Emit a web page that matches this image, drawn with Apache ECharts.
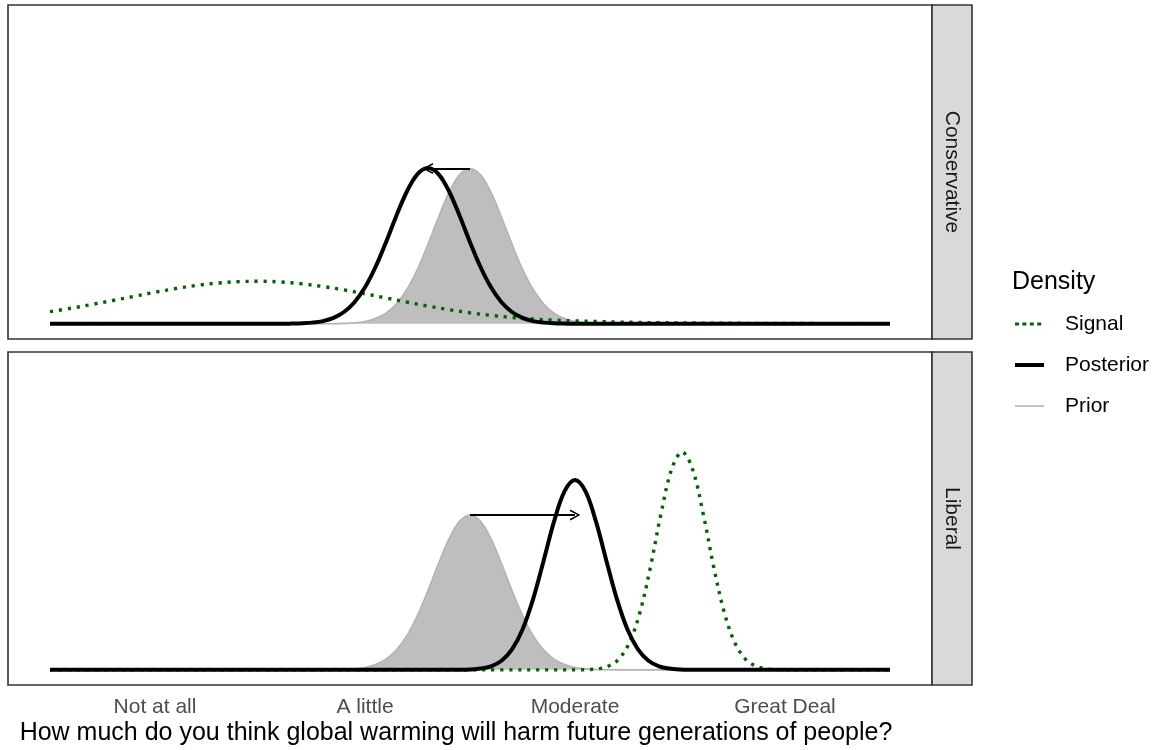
<!DOCTYPE html>
<html>
<head>
<meta charset="utf-8">
<script src="https://cdn.jsdelivr.net/npm/echarts@6/dist/echarts.min.js"></script>
<style>
  html, body { margin: 0; padding: 0; background: #fff; }
  #chart { width: 1153px; height: 750px; }
</style>
</head>
<body>
<div id="chart"></div>
<script>
// ---------- data ----------
const categories = ['Not at all', 'A little', 'Moderate', 'Great Deal'];
const tickValues = [1, 2, 3, 4];
const panels = ['Conservative', 'Liberal'];
const legendNames = ['Signal', 'Posterior', 'Prior'];
const xTitle = 'How much do you think global warming will harm future generations of people?';

// density curves as [x, density] pairs
const conPrior = [[0.5,0],[1.8,0],[1.85,0.001],[1.9,0.004],[1.95,0.01],[2.0,0.024],[2.05,0.053],[2.1,0.107],[2.15,0.2],[2.2,0.345],[2.25,0.546],[2.3,0.795],[2.35,1.064],[2.4,1.311],[2.45,1.487],[2.5,1.55],[2.55,1.487],[2.6,1.311],[2.65,1.064],[2.7,0.795],[2.75,0.546],[2.8,0.345],[2.85,0.2],[2.9,0.107],[2.95,0.053],[3.0,0.024],[3.05,0.01],[3.1,0.004],[3.15,0.001],[3.2,0],[4.5,0]];
const conPosterior = [[0.5,0],[1.6,0],[1.65,0.002],[1.7,0.005],[1.75,0.012],[1.8,0.027],[1.85,0.059],[1.9,0.118],[1.95,0.215],[2.0,0.364],[2.05,0.567],[2.1,0.815],[2.15,1.081],[2.2,1.323],[2.25,1.494],[2.3,1.555],[2.35,1.494],[2.4,1.323],[2.45,1.081],[2.5,0.815],[2.55,0.567],[2.6,0.364],[2.65,0.215],[2.7,0.118],[2.75,0.059],[2.8,0.027],[2.85,0.012],[2.9,0.005],[2.95,0.002],[3.0,0],[4.5,0]];
const conSignal = [[0.5,0.122],[0.6,0.155],[0.7,0.193],[0.8,0.233],[0.9,0.274],[1.0,0.315],[1.1,0.352],[1.2,0.384],[1.3,0.407],[1.4,0.421],[1.5,0.425],[1.6,0.417],[1.7,0.399],[1.8,0.372],[1.9,0.338],[2.0,0.299],[2.1,0.258],[2.2,0.217],[2.3,0.177],[2.4,0.141],[2.5,0.11],[2.6,0.084],[2.7,0.064],[2.8,0.048],[2.9,0.037],[3.0,0.029],[3.1,0.023],[3.2,0.018],[3.3,0.014],[3.4,0.011],[3.5,0.009],[3.6,0.007],[3.7,0.006],[3.8,0.005],[3.9,0.004],[4.0,0.003],[4.1,0.003],[4.2,0.002],[4.3,0.002],[4.4,0.002],[4.5,0.002]];

const libPrior = [[0.5,0],[1.8,0],[1.85,0.001],[1.9,0.004],[1.95,0.01],[2.0,0.024],[2.05,0.053],[2.1,0.107],[2.15,0.2],[2.2,0.345],[2.25,0.546],[2.3,0.795],[2.35,1.064],[2.4,1.311],[2.45,1.487],[2.5,1.55],[2.55,1.487],[2.6,1.311],[2.65,1.064],[2.7,0.795],[2.75,0.546],[2.8,0.345],[2.85,0.2],[2.9,0.107],[2.95,0.053],[3.0,0.024],[3.05,0.01],[3.1,0.004],[3.15,0.001],[3.2,0],[4.5,0]];
const libPosterior = [[0.5,0],[2.4,0],[2.45,0.001],[2.5,0.004],[2.55,0.013],[2.6,0.036],[2.65,0.091],[2.7,0.204],[2.75,0.403],[2.8,0.705],[2.85,1.088],[2.9,1.483],[2.95,1.786],[3.0,1.9],[3.05,1.786],[3.1,1.483],[3.15,1.088],[3.2,0.705],[3.25,0.403],[3.3,0.204],[3.35,0.091],[3.4,0.036],[3.45,0.013],[3.5,0.004],[3.55,0.001],[3.6,0],[4.5,0]];
const libSignal = [[0.5,0],[2.96,0],[3.01,0.001],[3.06,0.003],[3.11,0.011],[3.16,0.038],[3.21,0.111],[3.26,0.276],[3.31,0.581],[3.36,1.036],[3.41,1.567],[3.46,2.007],[3.51,2.18],[3.56,2.007],[3.61,1.567],[3.66,1.036],[3.71,0.581],[3.76,0.276],[3.81,0.111],[3.86,0.038],[3.91,0.011],[3.96,0.003],[4.01,0.001],[4.06,0],[4.5,0]];

// arrows: from prior peak to posterior peak (x, density)
const conArrow = [[2.5, 1.55], [2.3, 1.55]];
const libArrow = [[2.5, 1.55], [3.0, 1.55]];

// ---------- layout / style ----------
const FONT = '"Liberation Sans", Arial, Helvetica, sans-serif';
const plotL = 8, plotR = 932, stripW = 40;
const panelBoxes = [{ top: 5, height: 334 }, { top: 352, height: 333 }];
const X_MIN = 0.3, X_MAX = 4.7, Y_MIN = -0.1515, Y_MAX = 3.1815;
const BORDER = '#333333';

const arrowPath = 'path://M0,9 L5,0 L10,9 L8.6,9.7 L5,2.6 L1.4,9.7 Z';

function arrowMark(a) {
  return {
    silent: true,
    symbol: ['none', arrowPath],
    symbolSize: 11,
    symbolKeepAspect: true,
    label: { show: false },
    lineStyle: { color: '#000', width: 2, type: 'solid' },
    emphasis: { disabled: true },
    data: [[{ coord: a[0] }, { coord: a[1] }]]
  };
}

function priorSeries(data, idx) {
  return {
    type: 'line', name: 'Prior', xAxisIndex: idx, yAxisIndex: idx,
    data: data, smooth: 0.35, showSymbol: false, symbol: 'none',
    lineStyle: { color: '#B3B3B3', width: 1.6 },
    areaStyle: { color: '#BEBEBE', opacity: 1 },
    z: 2
  };
}
function signalSeries(data, idx) {
  return {
    type: 'line', name: 'Signal', xAxisIndex: idx, yAxisIndex: idx,
    data: data, smooth: 0.35, showSymbol: false, symbol: 'none',
    lineStyle: { color: '#006400', width: 3.4, type: [3.2, 5.8], cap: 'butt' },
    z: 3
  };
}
function posteriorSeries(data, idx, arrow) {
  return {
    type: 'line', name: 'Posterior', xAxisIndex: idx, yAxisIndex: idx,
    data: data, smooth: 0.35, showSymbol: false, symbol: 'none',
    lineStyle: { color: '#000000', width: 4 },
    markLine: arrowMark(arrow),
    z: 4
  };
}

const grids = panelBoxes.map(p => ({
  left: plotL, right: 1153 - plotR, top: p.top, height: p.height,
  show: true, borderColor: BORDER, borderWidth: 1.6, backgroundColor: '#fff',
  containLabel: false, outerBoundsMode: 'none'
}));

const xAxes = panelBoxes.map((p, i) => ({
  type: 'value', gridIndex: i, min: X_MIN, max: X_MAX,
  axisLine: { show: false }, axisTick: { show: false }, splitLine: { show: false },
  axisLabel: {
    show: i === panelBoxes.length - 1,
    customValues: tickValues,
    formatter: v => categories[tickValues.indexOf(Math.round(v))] || '',
    color: '#4D4D4D', fontSize: 21, fontFamily: FONT, margin: 12
  }
}));
const yAxes = panelBoxes.map((p, i) => ({
  type: 'value', gridIndex: i, min: Y_MIN, max: Y_MAX, show: false,
  splitLine: { show: false }
}));

const graphics = [];
panelBoxes.forEach((p, i) => {
  graphics.push({
    type: 'rect', z: 10,
    shape: { x: plotR, y: p.top, width: stripW, height: p.height },
    style: { fill: '#D9D9D9', stroke: BORDER, lineWidth: 1.6 }
  });
  graphics.push({
    type: 'text', z: 11,
    x: plotR + stripW / 2, y: p.top + p.height / 2, rotation: -Math.PI / 2,
    style: { text: panels[i], fill: '#1A1A1A', fontSize: 21, fontFamily: FONT, align: 'center', verticalAlign: 'middle' }
  });
});
graphics.push({
  type: 'text', z: 11, x: 456, y: 733,
  style: { text: xTitle, fill: '#000', fontSize: 25, fontFamily: FONT, align: 'center', verticalAlign: 'middle' }
});
// legend
graphics.push({
  type: 'text', z: 11, x: 1012, y: 282,
  style: { text: 'Density', fill: '#000', fontSize: 25, fontFamily: FONT, align: 'left', verticalAlign: 'middle' }
});
const legendStyles = [
  { stroke: '#006400', lineWidth: 3.2, lineDash: [4, 3.4], lineCap: 'butt' },
  { stroke: '#000000', lineWidth: 4 },
  { stroke: '#B3B3B3', lineWidth: 1.6 }
];
const legendY = [324, 365, 406];
legendNames.forEach((n, i) => {
  graphics.push({
    type: 'line', z: 11,
    shape: { x1: 1015, y1: legendY[i], x2: 1044, y2: legendY[i] },
    style: legendStyles[i]
  });
  graphics.push({
    type: 'text', z: 11, x: 1065, y: legendY[i],
    style: { text: n, fill: '#000', fontSize: 21, fontFamily: FONT, align: 'left', verticalAlign: 'middle' }
  });
});

const option = {
  animation: false,
  backgroundColor: '#ffffff',
  grid: grids,
  xAxis: xAxes,
  yAxis: yAxes,
  series: [
    priorSeries(conPrior, 0), signalSeries(conSignal, 0), posteriorSeries(conPosterior, 0, conArrow),
    priorSeries(libPrior, 1), signalSeries(libSignal, 1), posteriorSeries(libPosterior, 1, libArrow)
  ],
  graphic: graphics
};

const chart = echarts.init(document.getElementById('chart'), null, { renderer: 'canvas' });
chart.setOption(option);
</script>
</body>
</html>
